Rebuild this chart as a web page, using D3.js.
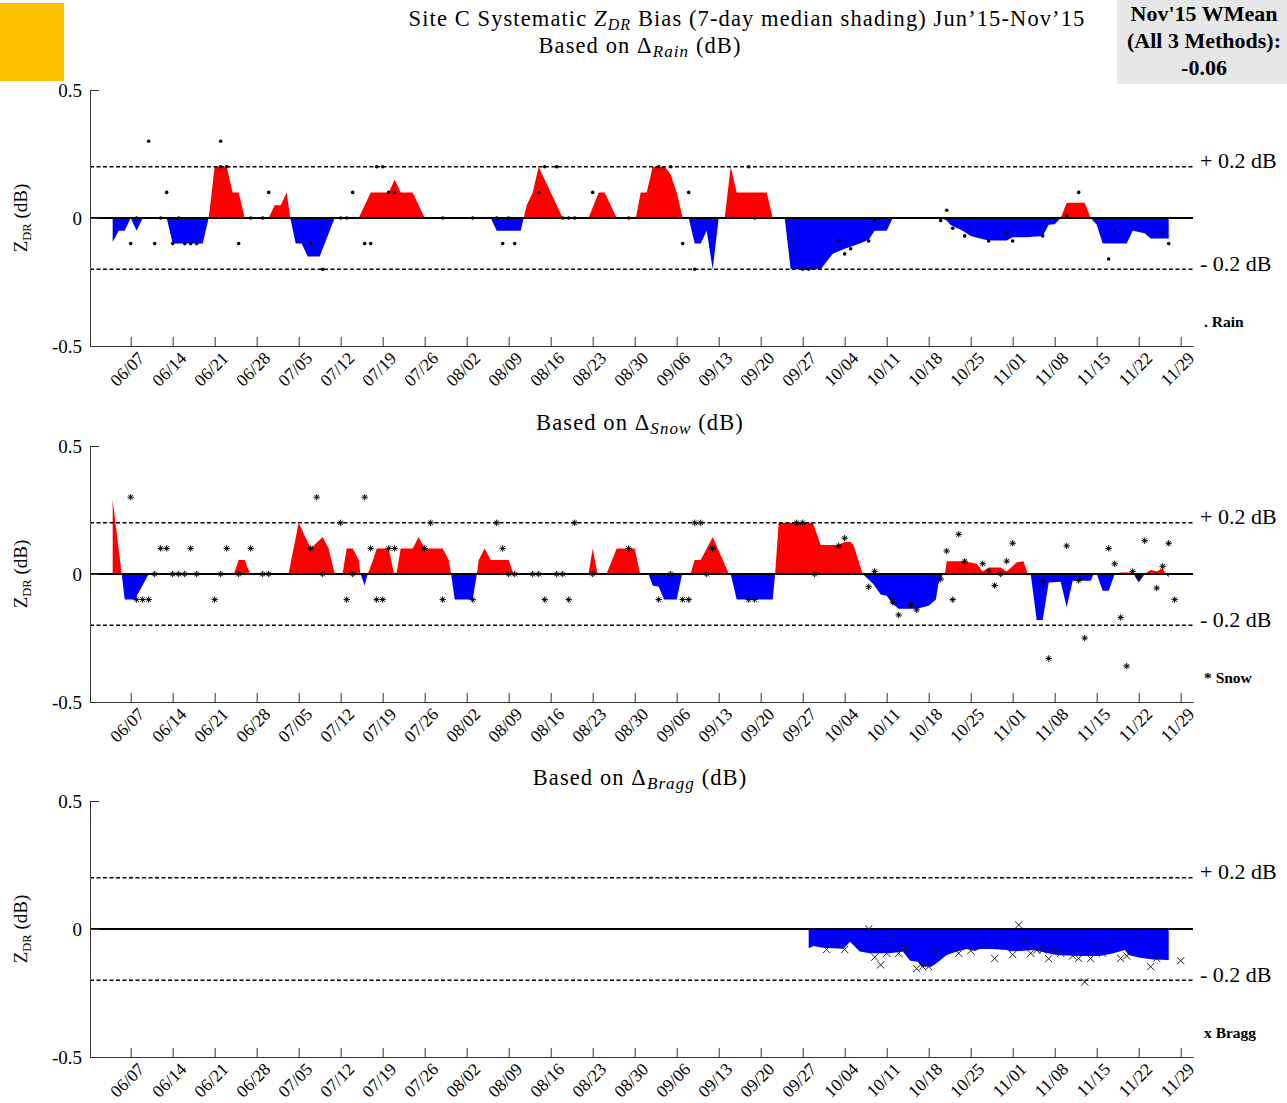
<!DOCTYPE html>
<html>
<head>
<meta charset="utf-8">
<script src="https://cdn.jsdelivr.net/npm/d3@7"></script>
<style>
  body { margin: 0; background: #fff; }
  text { font-family: "Liberation Serif", "Times New Roman", serif; }
</style>
</head>
<body>
<div id="chart"></div>
<script>
// day numbers count from 31 May 2015 (day 0)
var tickDays = d3.range(7, 183, 7);
var yTicks = [-0.5, 0, 0.5];
var limits = [0.2, -0.2];

// daily estimates [day, ZDR bias]
var rainPoints = [[7,-0.1],[8,0],[10,0.3],[11,-0.1],[12,0],[13,0.1],[14,-0.1],[15,0],[16,-0.1],[17,-0.1],[18,-0.1],
  [22,0.3],[22,0.2],[23,0.2],[25,-0.1],[27,0],[29,0],[30,0.1],[37,-0.1],[39,-0.2],[42,0],[43,0],[44,0.1],
  [46,-0.1],[47,-0.1],[48,0.2],[49,0.2],[50,0.1],[51,0.1],[59,0],[64,0],[68,0],[69,-0.1],[70,0],[71,-0.1],
  [75,0.1],[76,0.2],[78,0.2],[79,0],[80,0],[81,0],[84,0.1],[90,0],[95,0.2],[97,0.2],[99,-0.1],[100,0.1],
  [101,-0.2],[110,0.2],[111,0],[119,-0.2],[120,-0.2],[125,-0.09],[126,-0.14],[127,-0.12],[130,-0.09],
  [131,-0.01],[142,-0.01],[143,0.03],[144,-0.04],[146,-0.07],[150,-0.09],[153,-0.06],[154,-0.09],
  [159,-0.07],[163,0.01],[165,0.1],[170,-0.16],[171,-0.05],[179,-0.06],[180,-0.1]];

var snowPoints = [[7,0.3],[8,-0.1],[9,-0.1],[10,-0.1],[11,0],[12,0.1],[13,0.1],[14,0],[15,0],[16,0],[17,0.1],
  [18,0],[21,-0.1],[22,0],[23,0.1],[25,0],[27,0.1],[29,0],[30,0],[37,0.1],[38,0.3],[39,0],[42,0.2],[43,-0.1],
  [44,0],[46,0.3],[47,0.1],[48,-0.1],[49,-0.1],[50,0.1],[51,0.1],[56,0.1],[57,0.2],[59,-0.1],[64,-0.1],
  [68,0.2],[69,0.1],[70,0],[71,0],[74,0],[75,0],[76,-0.1],[78,0],[79,0],[80,-0.1],[81,0.2],[84,0],[90,0.1],
  [95,-0.1],[97,0],[99,-0.1],[100,-0.1],[101,0.2],[102,0.2],[103,0],[104,0.1],[110,-0.1],[111,-0.1],
  [118,0.2],[119,0.2],[121,0],[125,0.11],[126,0.14],[130,-0.05],[131,0.01],[134,-0.11],[135,-0.16],
  [137,-0.12],[138,-0.14],[142,-0.02],[143,0.09],[144,-0.1],[145,0.155],[146,0.05],[149,0.04],[150,0.01],
  [151,-0.045],[152,0],[153,0.05],[154,0.12],[159,-0.03],[160,-0.33],[163,0.11],[165,-0.025],[166,-0.25],
  [170,0.1],[171,0.04],[172,-0.17],[173,-0.36],[174,0.01],[175,-0.01],[176,0.13],[178,-0.055],[179,0.03],
  [180,0.12],[181,-0.1]];

var braggPoints = [[123,-0.08],[124,-0.05],[126,-0.08],[130,0],[131,-0.11],[132,-0.14],[133,-0.095],
  [134,-0.035],[135,-0.095],[136,-0.075],[138,-0.155],[139,-0.147],[140,-0.147],[141,-0.086],[145,-0.095],
  [147,-0.085],[148,-0.017],[149,-0.056],[151,-0.115],[154,-0.1],[155,0.016],[156,-0.047],[157,-0.095],
  [158,-0.082],[159,-0.082],[160,-0.116],[161,-0.085],[162,-0.095],[164,-0.105],[165,-0.115],[166,-0.207],
  [167,-0.115],[168,-0.066],[169,-0.095],[170,-0.05],[172,-0.115],[173,-0.105],[175,-0.026],[177,-0.147],
  [178,-0.115],[182,-0.124]];

// 7-day running medians [day, ZDR bias]
var rainMedian = [[4,0],[4,-0.094],[5,-0.05],[6,-0.05],[7,0],[8,-0.05],[9,0],[13,0],[14,-0.1],[19,-0.1],[20,0],
  [21,0.2],[23,0.2],[24,0.1],[25,0.1],[26,0],[30,0],[31,0.05],[32,0.05],[33,0.1],[33.6,0],[34.5,-0.1],
  [35.5,-0.1],[36.5,-0.15],[38.5,-0.15],[41,0],[45,0],[47,0.1],[50,0.1],[51,0.15],[52,0.1],[54,0.1],[56,0],
  [67,0],[68,-0.05],[72,-0.05],[72.5,0],[73,0.05],[74,0.1],[75,0.2],[79,0],[83.3,0],[85,0.1],[86,0.1],[88,0],
  [91.2,0],[92,0.1],[93,0.1],[94,0.2],[96,0.2],[97,0.17],[98,0.1],[99,0],[100,0],[101,-0.1],[102,-0.1],
  [103,-0.05],[104,-0.2],[105,0],[106,0],[107,0.2],[108,0.1],[113,0.1],[114,0],[116,0],[117,-0.2],[122,-0.2],
  [123,-0.17],[124,-0.14],[126,-0.12],[128.5,-0.1],[130,-0.085],[131,-0.05],[133,-0.05],[134,0],[142,0],
  [143,-0.01],[143.6,-0.026],[145.8,-0.052],[147,-0.07],[148.6,-0.08],[150,-0.088],[153,-0.088],[154,-0.075],
  [156.3,-0.075],[159,-0.07],[160,-0.026],[161,-0.024],[162,0],[163,0.06],[166,0.06],[167,0],[168,-0.026],
  [169,-0.1],[173,-0.1],[174,-0.05],[176,-0.06],[177,-0.08],[180,-0.08],[180,0]];

var snowMedian = [[4,0],[4,0.29],[5.5,0],[6,-0.1],[7.7,-0.1],[10,0],[24.2,0],[25,0.055],[26,0.055],[26.9,0],
  [33.3,0],[35,0.2],[37,0.1],[39,0.145],[40,0.1],[41,0],[42.3,0],[43,0.1],[44,0.1],[45,0.055],[45.3,0],
  [46,-0.045],[46.5,0],[47.4,0.055],[48,0.1],[50,0.1],[50.9,0],[51.3,0],[52,0.1],[54,0.1],[55,0.145],[56,0.1],
  [59,0.1],[60,0.055],[60.4,0],[61,-0.1],[64,-0.1],[64.7,0],[65,0.055],[66,0.1],[67,0.055],[70,0.055],[70.8,0],
  [83.3,0],[84,0.1],[84.8,0],[86.3,0],[88,0.1],[91,0.1],[91.9,0],[93.3,0],[94,-0.045],[95,-0.05],[95.9,-0.1],
  [98,-0.1],[98.9,0],[100.3,0],[101,0.055],[102,0.055],[104,0.145],[106.7,0],[107,0],[108,-0.1],[114,-0.1],
  [114.4,0],[115,0.2],[120.7,0.2],[122,0.113],[125,0.113],[126,0.125],[127,0.125],[127.5,0.11],[129,0],
  [130.8,-0.04],[132,-0.08],[133,-0.085],[134,-0.117],[135,-0.136],[138,-0.136],[140,-0.124],[141.2,-0.1],
  [141.6,-0.04],[142.4,0],[142.7,0],[143,0.05],[145.8,0.05],[148,0.04],[149,0.01],[150,0.025],[152,0.025],
  [153,0.01],[154.7,0.046],[155.8,0.05],[156.5,0],[157,0],[158,-0.18],[159,-0.18],[160,-0.033],[162,-0.03],
  [163,-0.13],[164,-0.026],[167,-0.026],[167.5,0],[168,0],[169,-0.065],[170,-0.065],[171,0],[172,0.006],
  [174,0.006],[175,-0.033],[176,0],[177,0.016],[178,0.01],[179,0.022],[179.5,0],[180,-0.013],[180,0]];

var braggMedian = [[120,0],[120,-0.075],[120.8,-0.066],[122.4,-0.073],[125.8,-0.077],[126.9,-0.05],
  [128.5,-0.088],[130.2,-0.095],[133.5,-0.095],[135.7,-0.088],[136.9,-0.124],[138.2,-0.128],[138.8,-0.147],
  [140.4,-0.147],[141.3,-0.134],[143,-0.102],[144.3,-0.091],[146.3,-0.078],[147.7,-0.086],[148.5,-0.078],
  [150.7,-0.078],[153,-0.082],[153.5,-0.087],[155.2,-0.086],[157.4,-0.082],[161.3,-0.102],[165.2,-0.105],
  [168.5,-0.105],[170.8,-0.095],[172.7,-0.082],[173.3,-0.102],[175.2,-0.112],[177.4,-0.119],[180,-0.121],[180,0]];

var dayZero = Date.UTC(2015, 4, 31);
function toDate(d) { return new Date(dayZero + d * 864e5); }

var svg = d3.select("#chart").append("svg").attr("width", 1287).attr("height", 1103);

var x = d3.scaleUtc()
    .domain([toDate(0.22), toDate(184.05)])
    .range([90, 1193]);

// custom markers
var starType = {draw: function(ctx, size) {
  var r = Math.sqrt(size) / 2;
  for (var i = 0; i < 4; i++) {
    var a = i * Math.PI / 4;
    ctx.moveTo(-r * Math.cos(a), -r * Math.sin(a));
    ctx.lineTo(r * Math.cos(a), r * Math.sin(a));
  }
}};
var crossType = {draw: function(ctx, size) {
  var r = Math.sqrt(size) / 2;
  ctx.moveTo(-r, -r); ctx.lineTo(r, r);
  ctx.moveTo(-r, r); ctx.lineTo(r, -r);
}};

// header
svg.append("rect").attr("x", 0).attr("y", 3).attr("width", 64).attr("height", 78).attr("fill", "#ffc000");
svg.append("rect").attr("x", 1117).attr("y", 0).attr("width", 170).attr("height", 84).attr("fill", "#e7e7e7");
["Nov'15 WMean", "(All 3 Methods):", "-0.06"].forEach(function(s, i) {
  svg.append("text").attr("x", 1204).attr("y", 21 + i * 27)
     .attr("text-anchor", "middle").attr("font-weight", "bold").attr("font-size", "22px")
     .text(s);
});

var title = svg.append("text").attr("x", 747).attr("y", 26).attr("text-anchor", "middle")
   .attr("font-size", "22.5px").attr("letter-spacing", "1.1px");
title.append("tspan").text("Site C Systematic ");
title.append("tspan").attr("font-style", "italic").text("Z");
title.append("tspan").attr("font-style", "italic").attr("font-size", "16px").attr("dy", 4).text("DR");
title.append("tspan").attr("dy", -4).text(" Bias (7-day median shading) Jun\u201915-Nov\u201915");

function subTitle(yPos, name) {
  var t = svg.append("text").attr("x", 640).attr("y", yPos).attr("text-anchor", "middle")
     .attr("font-size", "22.5px").attr("letter-spacing", "1.1px");
  t.append("tspan").text("Based on \u0394");
  t.append("tspan").attr("font-style", "italic").attr("font-size", "17px").attr("dy", 4).text(name);
  t.append("tspan").attr("dy", -4).text(" (dB)");
}
subTitle(53, "Rain");
subTitle(430, "Snow");
subTitle(785, "Bragg");

var panels = [
  {top: 90, median: rainMedian, points: rainPoints, mark: "dot", label: ". Rain"},
  {top: 446, median: snowMedian, points: snowPoints, mark: "star", label: "* Snow"},
  {top: 801, median: braggMedian, points: braggPoints, mark: "cross", label: "x Bragg"}
];

panels.forEach(function(p, k) {
  var y = d3.scaleLinear().domain([-0.5, 0.5]).range([p.top + 256, p.top]);
  var g = svg.append("g");

  var defs = g.append("defs");
  defs.append("clipPath").attr("id", "pos" + k).append("rect")
      .attr("x", 90).attr("y", p.top).attr("width", 1103).attr("height", y(0) - p.top);
  defs.append("clipPath").attr("id", "neg" + k).append("rect")
      .attr("x", 90).attr("y", y(0)).attr("width", 1103).attr("height", p.top + 256 - y(0));

  var area = d3.area()
      .x(function(d) { return x(toDate(d[0])); })
      .y0(y(0))
      .y1(function(d) { return y(d[1]); });

  g.append("path").datum(p.median).attr("d", area).attr("fill", "#ff0000").attr("clip-path", "url(#pos" + k + ")");
  g.append("path").datum(p.median).attr("d", area).attr("fill", "#0000ff").attr("clip-path", "url(#neg" + k + ")");

  // reference lines
  limits.forEach(function(v) {
    g.append("line").attr("x1", 90).attr("x2", 1193).attr("y1", y(v)).attr("y2", y(v))
     .attr("stroke", "#000").attr("stroke-width", 1.5).attr("stroke-dasharray", "4,2.5");
  });
  g.append("line").attr("x1", 90).attr("x2", 1193).attr("y1", y(0)).attr("y2", y(0))
   .attr("stroke", "#000").attr("stroke-width", 2);

  g.append("text").attr("x", 1200).attr("y", y(0.2) + 1).attr("font-size", "22px").text("+ 0.2 dB");
  g.append("text").attr("x", 1200).attr("y", y(-0.2) + 2).attr("font-size", "22px").text("- 0.2 dB");
  g.append("text").attr("x", 1204).attr("y", p.top + 237).attr("font-size", "15.5px")
   .attr("font-weight", "bold").text(p.label);

  // axes
  var xAxis = g.append("g").attr("transform", "translate(0," + (p.top + 256) + ")")
    .call(d3.axisBottom(x).tickValues(tickDays.map(toDate)).tickSize(-9).tickSizeOuter(0)
      .tickFormat(d3.utcFormat("%m/%d")));
  xAxis.selectAll("text")
    .attr("font-family", "Liberation Serif, serif").attr("font-size", "17.5px")
    .attr("text-anchor", "end").attr("x", 0).attr("y", 0).attr("dy", "0.35em")
    .attr("transform", "translate(10,9) rotate(-45)").attr("fill", "#000");
  var yAxis = g.append("g").attr("transform", "translate(90,0)")
    .call(d3.axisLeft(y).tickValues(yTicks).tickSize(-9).tickSizeOuter(0)
      .tickFormat(function(d) { return String(d); }));
  yAxis.selectAll("text").attr("font-family", "Liberation Serif, serif").attr("font-size", "19px")
    .attr("x", -8).attr("fill", "#000");
  g.selectAll(".domain, .tick line").attr("stroke", "#333");

  var yl = g.append("text").attr("transform", "translate(27," + y(0) + ") rotate(-90)")
    .attr("text-anchor", "middle").attr("font-size", "19px");
  yl.append("tspan").text("Z");
  yl.append("tspan").attr("font-size", "12.5px").attr("dy", 4).text("DR");
  yl.append("tspan").attr("dy", -4).text(" (dB)");

  // daily points
  if (p.mark === "dot") {
    g.selectAll(".pt").data(p.points).enter().append("circle")
      .attr("cx", function(d) { return x(toDate(d[0])); })
      .attr("cy", function(d) { return y(d[1]); })
      .attr("r", 1.8).attr("fill", "#000");
  } else {
    var sym = d3.symbol().type(p.mark === "star" ? starType : crossType).size(p.mark === "star" ? 40 : 52);
    g.selectAll(".pt").data(p.points).enter().append("path")
      .attr("transform", function(d) { return "translate(" + x(toDate(d[0])) + "," + y(d[1]) + ")"; })
      .attr("d", sym).attr("fill", "none")
      .attr("stroke", p.mark === "star" ? "#000" : "#222").attr("stroke-width", 1);
  }
});
</script>
</body>
</html>
